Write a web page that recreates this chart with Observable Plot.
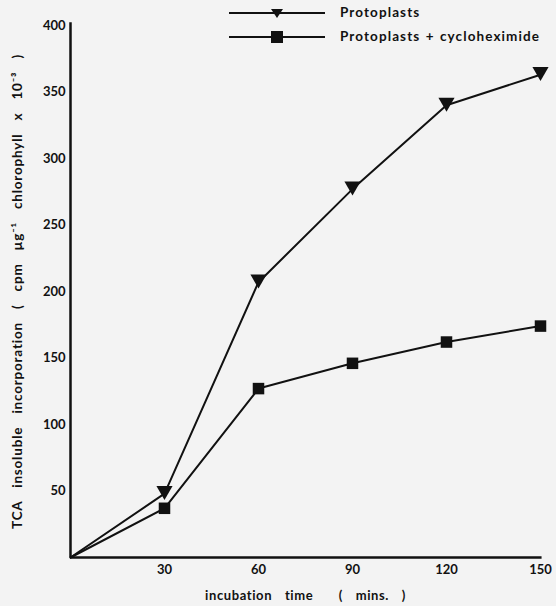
<!DOCTYPE html>
<html>
<head>
<meta charset="utf-8">
<script src="https://cdn.jsdelivr.net/npm/d3@7"></script>
<script src="https://cdn.jsdelivr.net/npm/@observablehq/plot@0.6"></script>
<style>
  html, body { margin: 0; padding: 0; background: #f3f3f3; }
  #wrap { position: relative; width: 556px; height: 606px; overflow: hidden; }
  #wrap svg text { font-weight: bold; }
  #wrap [aria-label="y-axis label"] text { font-size: 13.5px; word-spacing: 9px; letter-spacing: 0.8px; }
  #wrap [aria-label="x-axis label"] text { font-size: 13px; word-spacing: 9px; letter-spacing: 0.6px; }
  #legend { position: absolute; left: 0; top: 0; }
  #legend text { font-family: Lato, "DejaVu Sans", sans-serif; font-weight: bold; font-size: 13.5px; letter-spacing: 1.1px; word-spacing: 1px; }
</style>
</head>
<body>
<div id="wrap"></div>
<script>
// Data
const times = [0, 30, 60, 90, 120, 150];
const protoplasts = [0, 48, 207, 277, 340, 363];
const cycloheximide = [0, 37, 127, 146, 162, 174];
const seriesNames = ["Protoplasts", "Protoplasts + cycloheximide"];
const xTicks = [30, 60, 90, 120, 150];
const yTicks = [50, 100, 150, 200, 250, 300, 350, 400];

const rows = [];
times.forEach((t, i) => {
  rows.push({series: seriesNames[0], t, v: protoplasts[i]});
  rows.push({series: seriesNames[1], t, v: cycloheximide[i]});
});
const pts = rows.filter(d => d.t > 0);

const chart = Plot.plot({
  width: 556,
  height: 606,
  marginLeft: 70,
  marginRight: 16,
  marginTop: 25,
  marginBottom: 49,
  style: {background: "transparent", fontFamily: "Lato, 'DejaVu Sans', sans-serif", fontSize: "12px", color: "#111"},
  x: {domain: [0, 150]},
  y: {domain: [0, 400]},
  marks: [
    Plot.ruleX([0], {y1: 0, y2: 402, stroke: "#111", strokeWidth: 2.5}),
    Plot.ruleY([0], {x1: 0, x2: 150.5, stroke: "#111", strokeWidth: 2.5}),
    Plot.axisY({ticks: yTicks, tickSize: 0, tickPadding: 5, fontSize: 13,
      label: "TCA insoluble incorporation ( cpm µg⁻¹ chlorophyll x 10⁻³ )",
      labelArrow: "none", labelAnchor: "center", labelOffset: 58}),
    Plot.axisX({ticks: xTicks, tickSize: 0, tickPadding: 7, fontSize: 13,
      label: "incubation time  ( mins. )", labelArrow: "none", labelAnchor: "center", labelOffset: 42}),
    Plot.line(rows, {x: "t", y: "v", z: "series", stroke: "#111", strokeWidth: 2}),
    Plot.dot(pts.filter(d => d.series === seriesNames[0]), {x: "t", y: "v", symbol: "triangle", rotate: 180, r: 6, fill: "#111", stroke: "none", dy: -3}),
    Plot.dot(pts.filter(d => d.series === seriesNames[1]), {x: "t", y: "v", symbol: "square", r: 6.5, fill: "#111", stroke: "none"})
  ]
});
document.getElementById("wrap").appendChild(chart);

// Legend
const ns = "http://www.w3.org/2000/svg";
const leg = document.createElementNS(ns, "svg");
leg.setAttribute("id", "legend");
leg.setAttribute("width", 556);
leg.setAttribute("height", 50);
const entries = [
  {name: seriesNames[0], y: 13, sym: "tri"},
  {name: seriesNames[1], y: 37, sym: "sq"}
];
entries.forEach(e => {
  const l = document.createElementNS(ns, "line");
  l.setAttribute("x1", 229); l.setAttribute("x2", 325);
  l.setAttribute("y1", e.y); l.setAttribute("y2", e.y);
  l.setAttribute("stroke", "#111"); l.setAttribute("stroke-width", 2);
  leg.appendChild(l);
  const p = document.createElementNS(ns, "path");
  if (e.sym === "tri") p.setAttribute("d", `M${271},${e.y-4} L${283},${e.y-4} L${277},${e.y+5} Z`);
  else p.setAttribute("d", `M${271},${e.y-6} h12 v12 h-12 Z`);
  p.setAttribute("fill", "#111");
  leg.appendChild(p);
  const t = document.createElementNS(ns, "text");
  t.setAttribute("x", 340); t.setAttribute("y", e.y + 4);
  t.setAttribute("fill", "#111");
  t.textContent = e.name;
  leg.appendChild(t);
});
document.getElementById("wrap").appendChild(leg);
</script>
</body>
</html>
